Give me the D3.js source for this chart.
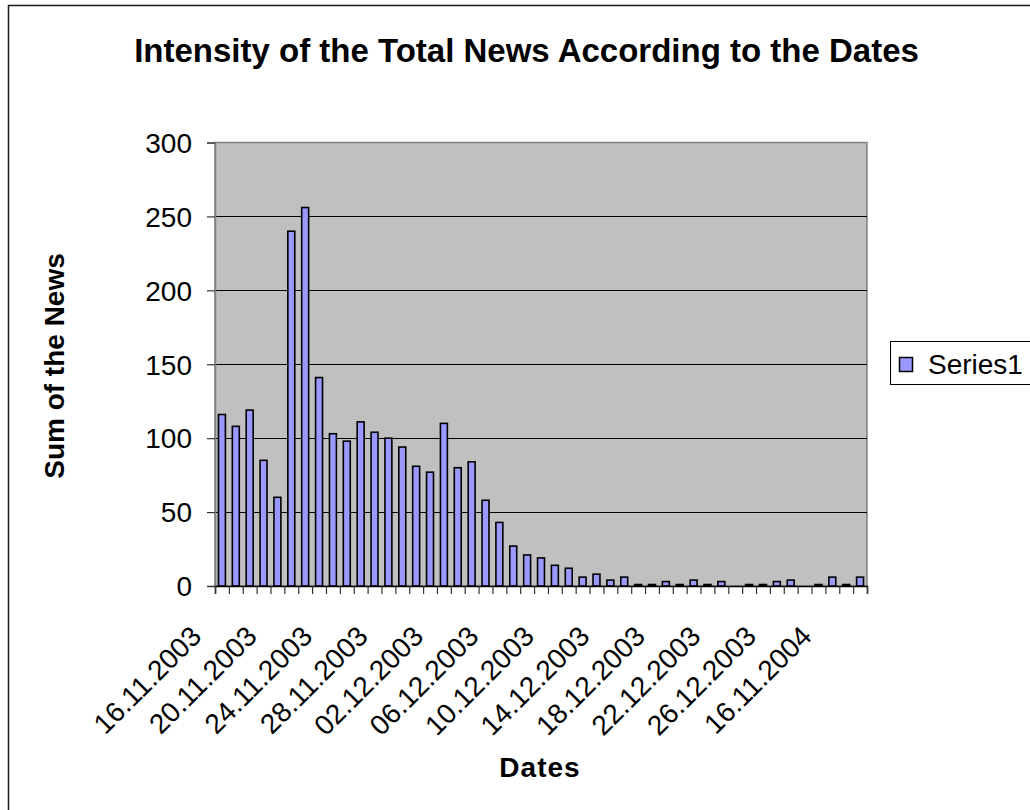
<!DOCTYPE html>
<html>
<head>
<meta charset="utf-8">
<script src="https://cdn.jsdelivr.net/npm/d3@7"></script>
<style>
  html, body { margin: 0; padding: 0; background: #ffffff; }
  svg { display: block; }
  text { font-family: "Liberation Sans", Arial, sans-serif; fill: #000; }
</style>
</head>
<body>
<svg id="chart" width="1030" height="810"></svg>
<script>
const title = "Intensity of the Total News According to the Dates";
const xTitle = "Dates";
const yTitle = "Sum of the News";
const seriesName = "Series1";

const categories = [
  "16.11.2003","17.11.2003","18.11.2003","19.11.2003","20.11.2003","21.11.2003","22.11.2003","23.11.2003",
  "24.11.2003","25.11.2003","26.11.2003","27.11.2003","28.11.2003","29.11.2003","30.11.2003","01.12.2003",
  "02.12.2003","03.12.2003","04.12.2003","05.12.2003","06.12.2003","07.12.2003","08.12.2003","09.12.2003",
  "10.12.2003","11.12.2003","12.12.2003","13.12.2003","14.12.2003","15.12.2003","16.12.2003","17.12.2003",
  "18.12.2003","19.12.2003","20.12.2003","21.12.2003","22.12.2003","23.12.2003","24.12.2003","25.12.2003",
  "26.12.2003","27.12.2003","28.12.2003","29.12.2003","16.11.2004","17.11.2004","18.11.2004"
];

const series1 = [
  116,108,119,85,60,240,256,141,103,98,
  111,104,100,94,81,77,110,80,84,58,
  43,27,21,19,14,12,6,8,4,6,
  1,1,3,1,4,1,3,0,1,1,
  3,4,0,1,6,1,6
];

const yTicks = [0, 50, 100, 150, 200, 250, 300];
const labelEvery = 4;

const svg = d3.select("#chart");

// outer chart border (right / bottom lie outside the picture)
svg.append("rect")
  .attr("x", 8.5).attr("y", 5.5)
  .attr("width", 1100).attr("height", 900)
  .attr("fill", "none").attr("stroke", "#1a1a1a").attr("stroke-width", 1.5);

const plot = { left: 215, right: 867, top: 142.5, bottom: 586 };

const x = d3.scaleBand()
  .domain(categories)
  .range([plot.left, plot.right])
  .paddingInner(0.5)
  .paddingOuter(0.25);

const xEdge = d3.scaleLinear()
  .domain([0, categories.length])
  .range([plot.left, plot.right]);

const y = d3.scaleLinear()
  .domain([0, 300])
  .range([plot.bottom, plot.top]);

// plot background
svg.append("rect")
  .attr("x", plot.left).attr("y", plot.top)
  .attr("width", plot.right - plot.left).attr("height", plot.bottom - plot.top)
  .attr("fill", "#c0c0c0").attr("stroke", "#808080").attr("stroke-width", 1.5);

// gridlines
svg.append("g")
  .selectAll("line")
  .data(yTicks.filter(d => d > 0 && d < 300))
  .join("line")
  .attr("x1", plot.left).attr("x2", plot.right)
  .attr("y1", d => Math.round(y(d)) + 0.5).attr("y2", d => Math.round(y(d)) + 0.5)
  .attr("stroke", "#000").attr("stroke-width", 1);

// bars
svg.append("g")
  .selectAll("rect")
  .data(series1)
  .join("rect")
  .attr("x", (d, i) => x(categories[i]))
  .attr("y", d => y(d))
  .attr("width", x.bandwidth())
  .attr("height", d => y(0) - y(d))
  .attr("fill", "#9999ff")
  .attr("stroke", "#000")
  .attr("stroke-width", 1.6);

// y axis
const yAxis = svg.append("g")
  .attr("transform", `translate(${plot.left},0)`)
  .call(d3.axisLeft(y).tickValues(yTicks).tickSize(8).tickPadding(15).tickFormat(d3.format("d")));
yAxis.select(".domain").attr("stroke", "#808080").attr("stroke-width", 1.5);
yAxis.selectAll(".tick line").attr("stroke", "#333").attr("stroke-width", 1.2);
yAxis.selectAll(".tick text")
  .style("font-family", "'Liberation Sans', Arial, sans-serif")
  .style("font-size", "28px")
  .attr("dy", "0.35em")
  .attr("fill", "#000");

// x axis: ticks at category boundaries
const xAxis = svg.append("g")
  .attr("transform", `translate(0,${plot.bottom})`)
  .call(d3.axisBottom(xEdge).tickValues(d3.range(categories.length + 1)).tickSize(8).tickFormat(""));
xAxis.select(".domain").attr("stroke", "#000").attr("stroke-width", 1.5);
xAxis.selectAll(".tick line").attr("stroke", "#333").attr("stroke-width", 1.2);

// x labels (every 4th category), rotated -45
svg.append("g")
  .selectAll("text")
  .data(categories.filter((d, i) => i % labelEvery === 0))
  .join("text")
  .attr("transform", d => `translate(${x(d) + x.bandwidth() / 2 - 19},${638}) rotate(-45)`)
  .attr("text-anchor", "end")
  .style("font-size", "28px")
  .text(d => d);

// title
svg.append("text")
  .attr("x", 526.5).attr("y", 62)
  .attr("text-anchor", "middle")
  .style("font-size", "33px").style("font-weight", "bold")
  .text(title);

// x title
svg.append("text")
  .attr("x", 540).attr("y", 777)
  .attr("text-anchor", "middle")
  .style("font-size", "28px").style("font-weight", "bold")
  .style("letter-spacing", "1px")
  .text(xTitle);

// y title
svg.append("text")
  .attr("transform", "translate(63.5,366) rotate(-90)")
  .attr("text-anchor", "middle")
  .style("font-size", "28px").style("font-weight", "bold")
  .text(yTitle);

// legend
const legend = svg.append("g");
legend.append("rect")
  .attr("x", 890.5).attr("y", 341.5)
  .attr("width", 200).attr("height", 43)
  .attr("fill", "#fff").attr("stroke", "#000").attr("stroke-width", 1);
legend.append("rect")
  .attr("x", 899.5).attr("y", 357.5)
  .attr("width", 13).attr("height", 14)
  .attr("fill", "#9999ff").attr("stroke", "#000").attr("stroke-width", 1.5);
legend.append("text")
  .attr("x", 928).attr("y", 374)
  .style("font-size", "28px")
  .text(seriesName);
</script>
</body>
</html>
